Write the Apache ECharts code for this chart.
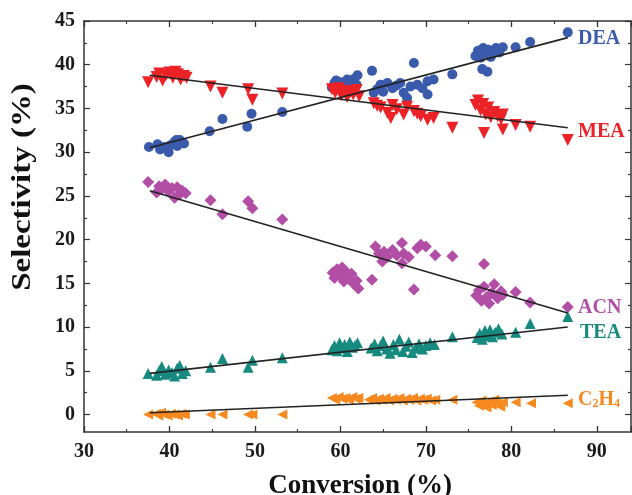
<!DOCTYPE html>
<html><head><meta charset="utf-8">
<script src="https://cdn.jsdelivr.net/npm/echarts@6/dist/echarts.min.js"></script>
<style>html,body{margin:0;padding:0;background:#fff}#c{width:632px;height:495px}</style>
</head><body><div id="c"></div>
<script>
// ---- data (Conversion %, Selectivity %) ----
const deaPts = [[37.6,30.6],[38.6,30.9],[38.9,30.3],[39.4,30.6],[39.9,30.0],[40.1,30.8],[40.6,31.2],[40.8,31.4],[40.9,30.7],[41.2,31.4],[41.7,31.0],
 [44.7,32.4],[46.2,33.8],[49.1,32.9],[49.6,34.4],[53.2,34.6],
 [59.0,37.4],[59.3,37.9],[59.5,38.2],[59.8,37.6],[60.0,38.0],[60.3,37.2],[60.5,37.8],[60.8,38.3],[61.0,37.5],[61.3,38.0],[61.6,38.4],[61.9,37.7],[62.0,38.8],
 [63.7,39.3],[63.9,36.8],[64.7,37.7],[65.5,37.9],[66.1,37.3],[67.0,37.9],[67.4,36.8],[67.8,36.2],[68.2,37.5],[69.0,37.7],[69.6,37.3],[70.2,38.1],[70.2,36.6],[70.9,38.3],[64.3,37.2],[65.0,36.9],[66.5,37.6],
 [68.6,40.2],[73.1,38.9],
 [75.8,41.0],[76.1,41.6],[76.4,40.8],[76.7,41.9],[77.0,41.3],[77.3,41.7],[77.6,40.9],[77.9,41.5],[78.2,41.9],[78.6,41.4],[79.0,42.0],[76.6,39.5],[77.2,39.2],
 [80.5,42.0],[82.2,42.6],[86.6,43.7]];
const meaPts = [[37.5,38.0],[38.5,38.6],[38.8,39.0],[39.2,38.2],[39.6,38.8],[40.0,39.1],[40.4,38.5],[40.7,39.2],[41.0,38.9],[41.3,38.3],[41.7,38.7],[42.0,38.5],
 [44.8,37.5],[46.2,36.8],[49.2,37.2],[49.7,36.0],[53.2,36.7],
 [59.0,37.2],[59.4,36.8],[59.8,37.3],[60.1,36.5],[60.5,37.0],[60.8,36.3],[61.2,36.9],[61.5,36.6],[61.9,37.1],[62.2,36.4],
 [63.9,35.6],[64.7,35.1],[65.5,34.5],[66.1,35.4],[66.6,34.9],[67.4,34.3],[67.8,35.2],[68.6,34.7],[69.4,34.1],[70.2,33.7],[70.9,33.9],[65.9,33.9],[64.3,35.3],[69.0,34.4],
 [73.1,32.8],
 [75.8,35.4],[76.1,35.9],[76.4,34.8],[76.7,35.5],[77.0,34.3],[77.3,35.1],[77.6,34.0],[78.0,34.6],[78.4,34.1],[78.8,33.8],[79.0,34.3],
 [76.8,32.2],[79.0,32.6],[80.5,33.1],[82.2,32.9],[86.6,31.4]];
const acnPts = [[37.5,26.6],[38.5,25.4],[38.8,26.1],[39.1,25.8],[39.5,26.3],[39.9,25.5],[40.3,25.9],[40.6,24.8],[40.9,26.0],[41.2,25.2],[41.5,25.6],[41.9,25.3],
 [44.8,24.5],[46.2,22.9],[49.2,24.4],[49.7,23.6],[53.2,22.3],
 [59.1,16.2],[59.3,15.6],[59.6,16.6],[59.9,15.9],[60.2,16.8],[60.4,15.2],[60.7,16.3],[61.0,15.5],[61.3,16.1],[61.6,14.9],[61.9,15.3],[62.1,14.4],
 [63.7,15.4],
 [64.1,19.2],[64.5,18.4],[65.1,18.6],[65.5,18.0],[66.1,18.8],[66.6,18.2],[67.2,19.6],[67.4,18.4],[68.0,18.0],[69.0,19.0],[69.4,19.4],[70.0,19.2],[71.1,18.2],[64.9,17.5],[67.2,17.3],
 [73.1,18.1],[68.6,14.3],[76.8,17.2],
 [75.9,13.6],[76.2,14.2],[76.5,13.0],[76.8,14.6],[77.1,13.4],[77.4,12.7],[77.7,13.9],[78.0,14.9],[78.4,13.3],[78.8,14.1],[79.0,13.7],
 [80.5,14.0],[82.2,12.8],[86.6,12.3]];
const teaPts = [[37.5,4.7],[38.5,4.5],[38.8,5.0],[39.1,5.5],[39.5,4.6],[39.9,5.1],[40.3,4.8],[40.6,4.4],[40.9,5.3],[41.2,5.6],[41.5,4.7],[41.9,5.0],
 [44.8,5.4],[46.2,6.4],[49.2,5.4],[49.7,6.2],[53.2,6.5],
 [59.0,7.4],[59.3,7.9],[59.6,7.3],[59.9,8.2],[60.2,7.6],[60.5,8.0],[60.8,7.2],[61.1,8.3],[61.4,7.7],[61.7,7.9],[62.0,8.2],
 [63.6,7.6],[64.0,8.1],[64.3,7.3],[64.7,7.9],[65.0,8.4],[65.4,7.5],[65.8,7.0],[66.2,8.0],[66.5,7.4],[66.9,8.6],[67.3,7.2],[67.7,7.8],[68.0,8.3],[68.4,7.1],[68.8,7.6],[69.2,8.1],[69.6,7.5],[70.0,7.9],[70.5,8.2],[71.0,8.0],
 [73.1,8.9],
 [76.0,8.8],[76.3,9.3],[76.6,8.6],[76.9,9.6],[77.2,9.0],[77.5,9.7],[77.8,8.9],[78.1,9.4],[78.5,9.8],[78.9,9.2],
 [80.5,9.4],[82.2,10.4],[86.6,11.2]];
const c2h4Pts = [[37.5,0.0],[38.4,0.1],[38.7,-0.1],[39.0,0.2],[39.4,0.0],[39.8,-0.1],[40.2,0.1],[40.6,0.0],[41.0,-0.1],[41.4,0.1],[41.8,0.0],
 [44.8,0.0],[46.2,0.0],[49.2,0.0],[49.7,0.0],[53.2,0.0],
 [59.0,1.9],[59.4,1.7],[59.8,2.0],[60.2,1.8],[60.6,1.9],[61.0,1.7],[61.4,2.0],[61.8,1.8],[62.1,1.9],
 [63.3,1.7],[63.7,1.9],[64.1,1.6],[64.5,1.8],[64.9,1.7],[65.3,1.9],[65.7,1.6],[66.1,1.8],[66.5,1.7],[66.9,1.9],[67.3,1.6],[67.7,1.8],[68.1,1.7],[68.5,1.9],[68.9,1.6],[69.3,1.8],[69.7,1.7],[70.1,1.8],[70.6,1.6],[71.1,1.7],
 [73.1,1.7],
 [75.9,1.4],[76.2,1.0],[76.5,1.6],[76.8,1.2],[77.1,0.8],[77.4,1.5],[77.7,1.1],[78.0,1.7],[78.3,1.3],[78.7,0.9],[79.0,1.4],
 [80.5,1.4],[82.3,1.3],[86.6,1.3]];
// linear fit lines (endpoints)
const deaFit = [[37.7,30.5],[86.6,43.1]];
const meaFit = [[37.7,38.8],[86.6,32.8]];
const acnFit = [[37.7,25.6],[86.6,11.6]];
const teaFit = [[37.7,4.7],[86.6,10.0]];
const c2h4Fit = [[37.7,0.2],[86.6,2.2]];
// axes
const xMin = 30, xMax = 94, xStep = 10;
const yMin = -2, yMax = 45;
const yTicks = [0,5,10,15,20,25,30,35,40,45];
const yMinorTicks = [2.5,7.5,12.5,17.5,22.5,27.5,32.5,37.5,42.5];
const xTitle = 'Conversion (%)';
const yTitle = 'Selectivity (%)';

const FONT = '"Liberation Serif","Times New Roman",serif';
const AX = '#333';
const C = {dea:'#3a5aab', mea:'#ec2227', acn:'#b24ea6', tea:'#178a80', c2h4:'#f6891f'};

const chart = echarts.init(document.getElementById('c'), null, {renderer:'canvas'});
const lineStyleAx = {color:AX, width:1.5};
function xAx(pos, labels){
  return {type:'value', position:pos, min:xMin, max:xMax, interval:xStep,
    axisLine:{show:true, onZero:false, lineStyle:lineStyleAx},
    axisTick:{show:true, inside:true, length:6, lineStyle:{color:AX, width:1.3}},
    minorTick:{show:true, splitNumber:2, length:3, lineStyle:{color:AX, width:1.1}},
    splitLine:{show:false}, minorSplitLine:{show:false},
    axisLabel:{show:labels, showMaxLabel:false, margin:10, color:'#1a1a1a', fontFamily:FONT, fontWeight:'bold', fontSize:20}};
}
function yAx(pos, labels, ticks, len, line){
  return {type:'value', position:pos, min:yMin, max:yMax,
    axisLine:{show:line, onZero:false, lineStyle:lineStyleAx},
    axisTick:{show:true, inside:true, length:len, customValues:ticks, lineStyle:{color:AX, width:1.2}},
    splitLine:{show:false},
    axisLabel:{show:labels, customValues:ticks, margin:9, color:'#1a1a1a', fontFamily:FONT, fontWeight:'bold', fontSize:20}};
}
function sc(name, data, color, symbol, size, rot){
  return {name, type:'scatter', xAxisIndex:0, yAxisIndex:0, data, symbol, symbolSize:size, symbolRotate:rot||0,
    itemStyle:{color, opacity:1}, z:2, silent:true};
}
function fit(data){
  return {type:'line', xAxisIndex:0, yAxisIndex:0, data, showSymbol:false, symbol:'none',
    lineStyle:{color:'#222', width:1.6}, z:3, silent:true, animation:false};
}
function lab(text, color, x, y){
  return {type:'text', x, y, style:{text, fill:color, font:'bold 20px '+FONT, verticalAlign:'middle'}};
}
chart.setOption({
  animation:false,
  backgroundColor:'#fff',
  grid:{left:84, right:1, top:21, bottom:63},
  xAxis:[xAx('bottom', true), xAx('top', false)],
  yAxis:[yAx('left', true, yTicks, 6, true), yAx('right', false, yTicks, 6, true),
         yAx('left', false, yMinorTicks, 3, false), yAx('right', false, yMinorTicks, 3, false)],
  series:[
    sc('DEA', deaPts, C.dea, 'circle', 10),
    sc('MEA', meaPts, C.mea, 'triangle', 12, 180),
    sc('ACN', acnPts, C.acn, 'diamond', 12),
    sc('TEA', teaPts, C.tea, 'triangle', 11),
    sc('C2H4', c2h4Pts, C.c2h4, 'triangle', 10, 90),
    fit(deaFit), fit(meaFit), fit(acnFit), fit(teaFit), fit(c2h4Fit)
  ],
  graphic:[
    {type:'text', x:360, y:486, style:{text:xTitle, fill:'#111', font:'bold 27px '+FONT, align:'center', verticalAlign:'middle'}},
    {type:'text', x:23, y:187, rotation:Math.PI/2, scaleX:1.22, style:{text:yTitle, fill:'#111', font:'bold 27px '+FONT, align:'center', verticalAlign:'middle'}},
    lab('DEA', C.dea, 578, 39),
    lab('MEA', C.mea, 578, 132),
    lab('ACN', C.acn, 578, 308),
    lab('TEA', C.tea, 580, 333),
    {type:'text', x:578, y:400, style:{
      rich:{a:{fill:C.c2h4, font:'bold 20px '+FONT}, s:{fill:C.c2h4, font:'bold 12px '+FONT, padding:[7,0,0,0]}},
      text:'{a|C}{s|2}{a|H}{s|4}', verticalAlign:'middle'}}
  ]
});
</script></body></html>
